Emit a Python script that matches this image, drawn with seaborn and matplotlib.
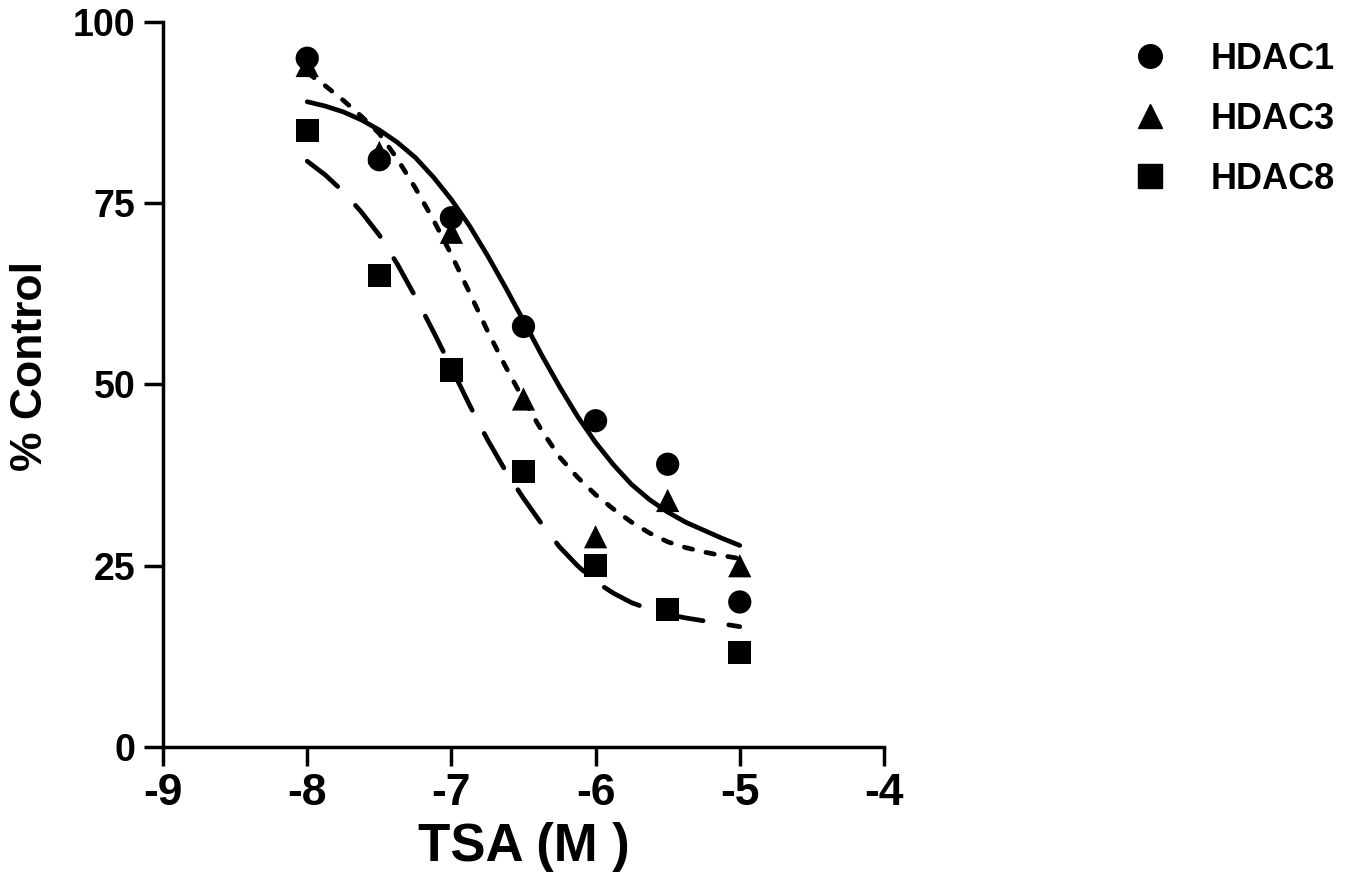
import matplotlib
matplotlib.use("Agg")
import matplotlib.pyplot as plt
from matplotlib.lines import Line2D
import pandas as pd
import seaborn as sns

# measured points, log10 [TSA] (M) vs % control
log_conc = [-8, -7.5, -7, -6.5, -6, -5.5, -5]
hdac1 = [95, 81, 73, 58, 45, 39, 20]
hdac3 = [94, 82, 71, 48, 29, 34, 25]
hdac8 = [85, 65, 52, 38, 25, 19, 13]

# fitted curves
curve_x = [-8, -7.875, -7.75, -7.625, -7.5, -7.375, -7.25, -7.125, -7,
           -6.875, -6.75, -6.625, -6.5, -6.375, -6.25, -6.125, -6,
           -5.875, -5.75, -5.625, -5.5, -5.375, -5.25, -5.125, -5]
fit1 = [89.0, 88.4, 87.6, 86.5, 85.1, 83.4, 81.3, 78.6, 75.5,
        71.9, 67.8, 63.4, 58.8, 54.1, 49.7, 45.6, 42.0,
        38.9, 36.2, 34.1, 32.4, 31.0, 29.9, 28.8, 27.8]
fit3 = [93.0, 91.2, 89.2, 87.0, 84.6, 81.1, 77.1, 72.7, 67.9,
        62.7, 57.4, 52.5, 47.9, 43.7, 40.0, 37.2, 34.8,
        32.8, 31.0, 29.5, 28.3, 27.5, 26.9, 26.4, 26.0]
fit8 = [80.8, 78.9, 76.6, 73.8, 70.6, 66.6, 62.1, 57.3, 52.3,
        47.2, 42.4, 38.1, 34.3, 30.8, 27.6, 25.0, 22.8,
        21.2, 19.9, 19.0, 18.3, 17.8, 17.4, 17.0, 16.6]

enzymes = ["HDAC1", "HDAC3", "HDAC8"]
x_ticks = [-9, -8, -7, -6, -5, -4]
y_ticks = [0, 25, 50, 75, 100]

# long tables for seaborn
pts = pd.DataFrame({
    "logc": log_conc * 3,
    "pct": hdac1 + hdac3 + hdac8,
    "enzyme": [e for e in enzymes for _ in log_conc],
})
fits = pd.DataFrame({
    "logc": curve_x * 3,
    "pct": fit1 + fit3 + fit8,
    "enzyme": [e for e in enzymes for _ in curve_x],
})

sns.set_style("ticks")
plt.rcParams["font.family"] = ["Liberation Sans", "DejaVu Sans"]
plt.rcParams["font.weight"] = "bold"
for k in ["text.color", "axes.labelcolor", "xtick.color", "ytick.color", "axes.edgecolor"]:
    plt.rcParams[k] = "black"

fig = plt.figure(figsize=(13.52, 8.90), dpi=100)
ax = fig.add_axes([0.1206, 0.1607, 0.5332, 0.8146])

lw = 3.4
markers = {"HDAC1": "o", "HDAC3": "^", "HDAC8": "s"}
dashes = {"HDAC1": "", "HDAC3": (1.8, 2.9), "HDAC8": (8.4, 5.5)}

sns.lineplot(data=fits, x="logc", y="pct", style="enzyme", dashes=dashes,
             color="black", linewidth=lw, dash_capstyle="round",
             solid_capstyle="round", solid_joinstyle="round", legend=False, ax=ax)
sns.scatterplot(data=pts, x="logc", y="pct", style="enzyme", markers=markers,
                color="black", s=280, linewidth=0, legend=False, ax=ax,
                zorder=3, clip_on=False)

ax.set_xlim(-9, -4)
ax.set_ylim(0, 100)
ax.set_xticks(x_ticks)
ax.set_yticks(y_ticks)
ax.set_xticklabels([str(t) for t in x_ticks], fontsize=32, fontweight="bold")
ax.set_yticklabels([str(t) for t in y_ticks], fontsize=27, fontweight="bold")
ax.tick_params(axis="both", length=14, width=2.5, color="black")
ax.tick_params(axis="x", pad=5)
ax.tick_params(axis="y", pad=6)
sns.despine(ax=ax)
for sp in ["left", "bottom"]:
    ax.spines[sp].set_linewidth(2.5)
    ax.spines[sp].set_color("black")

ax.set_xlabel("TSA (M )", fontsize=38, fontweight="bold")
ax.xaxis.set_label_coords(0.5, -0.104, transform=ax.transAxes)
ax.xaxis.label.set_va("top")
ax.set_ylabel("% Control", fontsize=32, fontweight="bold")
ax.yaxis.set_label_coords(-0.155, 0.525)

handles = [Line2D([], [], linestyle="none", marker=markers[e], color="black",
                  markersize=17) for e in enzymes]
fig.legend(handles, enzymes, loc="upper left", bbox_to_anchor=(0.813, 0.9895),
           frameon=False, prop={"size": 26, "weight": "bold"},
           handletextpad=1.2, labelspacing=0.69, handlelength=1.0)

fig.savefig("out.png", dpi=100)
